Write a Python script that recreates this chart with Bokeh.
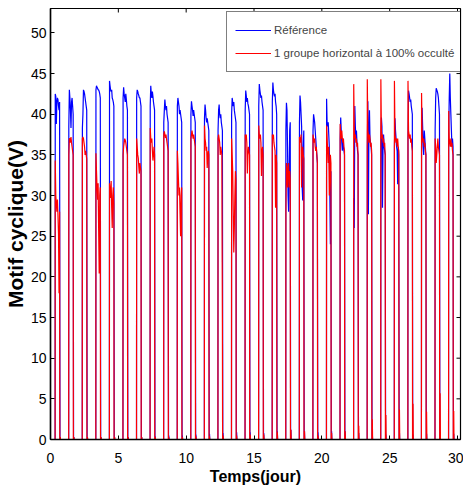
import numpy as np
from bokeh.plotting import figure
from bokeh.models import FixedTicker, Range1d
from bokeh.embed import file_html
from bokeh.resources import INLINE

# ---------------- data ----------------
days = list(range(30))
# sample times inside each daily pulse (fraction of the day)
sample_offsets = [0.35, 0.39, 0.43, 0.47, 0.51, 0.55, 0.59, 0.63, 0.67]
rise_offset = 0.34
blue_fall_offset = 0.70
red_fall_offset = 0.685
tail_offset = 0.72
tail_end_offset = 0.74
x_end = 30.22
y_top = 53

blue_values = [
    [42.5, 42.2, 38.8, 41.5, 42.0, 41.8, 41.0, 40.5, 41.5],
    [38.5, 43.0, 42.0, 40.5, 38.3, 41.5, 42.0, 41.0, 40.0],
    [38.3, 40.0, 43.0, 42.8, 42.5, 42.0, 41.5, 41.0, 40.5],
    [43.0, 43.5, 43.3, 43.2, 43.0, 43.0, 42.8, 42.5, 42.0],
    [44.1, 43.5, 43.0, 42.8, 43.0, 42.0, 41.8, 41.5, 41.0],
    [42.0, 43.3, 42.5, 42.0, 41.5, 42.5, 41.8, 41.0, 40.5],
    [42.0, 43.0, 42.8, 42.5, 42.3, 42.0, 42.0, 41.5, 41.0],
    [41.0, 43.5, 42.5, 42.0, 42.8, 42.2, 41.5, 41.0, 40.5],
    [39.0, 40.5, 41.8, 41.0, 40.5, 41.0, 40.0, 39.5, 39.0],
    [41.0, 42.0, 41.5, 41.0, 40.0, 40.5, 40.0, 39.5, 39.0],
    [40.0, 41.6, 41.0, 40.5, 39.8, 40.5, 40.0, 39.5, 39.0],
    [39.5, 41.2, 40.5, 39.5, 39.0, 39.5, 39.0, 38.5, 38.0],
    [38.0, 40.5, 41.2, 40.0, 39.5, 40.0, 39.0, 38.5, 38.0],
    [40.0, 42.0, 41.5, 41.0, 41.5, 40.5, 40.0, 39.5, 39.0],
    [40.5, 42.9, 42.3, 41.5, 42.0, 41.3, 41.0, 40.5, 40.0],
    [41.0, 43.7, 43.0, 42.5, 42.0, 42.3, 41.5, 41.0, 40.5],
    [41.5, 43.9, 43.0, 42.5, 42.2, 42.5, 41.5, 41.0, 40.0],
    [38.0, 41.4, 40.5, 36.0, 30.0, 28.0, 33.0, 38.0, 39.0],
    [39.0, 42.3, 41.5, 40.0, 38.5, 31.0, 29.4, 36.0, 38.0],
    [38.0, 40.0, 39.5, 39.0, 38.0, 37.0, 36.0, 35.0, 34.0],
    [41.9, 38.8, 38.5, 39.0, 37.5, 36.0, 30.0, 24.0, 33.0],
    [37.0, 39.6, 38.0, 36.5, 35.5, 37.0, 36.0, 35.5, 35.0],
    [29.7, 26.0, 41.0, 38.5, 37.0, 38.0, 36.5, 35.5, 35.0],
    [36.0, 41.6, 27.7, 38.0, 40.5, 37.0, 36.5, 36.0, 35.0],
    [37.0, 39.6, 38.5, 28.5, 36.0, 37.5, 36.0, 35.5, 35.0],
    [36.0, 39.5, 38.0, 37.0, 36.0, 35.5, 31.4, 36.0, 35.0],
    [37.0, 42.9, 42.5, 42.0, 41.5, 41.8, 41.0, 40.5, 40.0],
    [36.0, 40.8, 38.5, 36.0, 35.0, 38.0, 37.0, 36.0, 35.0],
    [38.0, 42.0, 43.2, 43.0, 42.8, 42.5, 42.0, 41.0, 40.0],
    [38.0, 42.0, 45.0, 42.0, 40.0, 38.0, 36.0, 37.0, 36.0],
]

red_values = [
    [34.3, 30.0, 29.0, 28.0, 29.5, 27.7, 25.3, 18.0, 28.0],
    [35.0, 37.0, 37.0, 36.5, 37.2, 36.5, 36.0, 35.5, 35.0],
    [37.0, 37.2, 37.0, 36.5, 36.0, 35.0, 35.5, 35.0, 34.5],
    [35.2, 33.0, 31.0, 29.5, 31.5, 25.7, 20.4, 30.0, 31.0],
    [31.5, 30.5, 29.7, 31.8, 28.5, 26.0, 30.0, 31.0, 29.0],
    [35.0, 36.0, 36.5, 37.0, 36.8, 36.5, 36.0, 35.5, 35.0],
    [37.0, 36.0, 35.0, 34.6, 33.5, 32.7, 34.0, 33.5, 33.0],
    [38.3, 37.0, 36.5, 37.0, 35.5, 34.3, 35.0, 36.0, 35.0],
    [37.5, 37.9, 37.5, 37.1, 37.5, 37.0, 36.5, 36.0, 35.5],
    [35.5, 34.0, 32.0, 30.0, 31.0, 27.8, 25.0, 30.0, 31.0],
    [37.0, 37.5, 38.0, 37.5, 37.0, 37.5, 37.0, 36.5, 36.0],
    [38.6, 37.0, 36.5, 35.5, 36.0, 33.4, 35.0, 35.5, 35.0],
    [37.0, 37.5, 37.0, 36.5, 35.0, 36.0, 35.5, 35.0, 14.5],
    [37.0, 35.0, 33.0, 28.0, 23.0, 26.0, 30.0, 33.0, 32.0],
    [37.5, 37.0, 37.5, 36.5, 32.7, 35.0, 36.0, 35.5, 35.0],
    [38.6, 37.5, 37.0, 37.5, 36.5, 32.4, 35.5, 36.0, 35.0],
    [37.5, 37.0, 37.5, 36.5, 36.0, 35.5, 28.5, 35.0, 34.0],
    [28.0, 34.0, 33.0, 31.0, 33.5, 34.0, 31.0, 33.0, 32.0],
    [37.2, 37.0, 36.5, 37.5, 31.0, 35.0, 36.0, 35.0, 34.5],
    [37.5, 37.0, 36.5, 37.0, 36.0, 35.5, 36.0, 35.0, 34.0],
    [38.6, 37.0, 35.5, 34.0, 36.0, 30.0, 32.0, 35.0, 34.0],
    [38.8, 37.5, 37.0, 38.0, 37.0, 36.5, 37.0, 36.0, 35.5],
    [43.7, 38.0, 37.0, 37.5, 36.5, 37.0, 36.0, 36.5, 35.0],
    [44.3, 38.0, 37.5, 36.5, 37.5, 37.0, 36.0, 36.5, 35.5],
    [44.3, 38.0, 37.0, 37.5, 36.5, 37.0, 36.0, 36.5, 35.0],
    [44.1, 37.5, 37.0, 36.5, 37.0, 36.0, 37.0, 36.0, 35.5],
    [44.1, 38.0, 37.5, 37.0, 37.5, 36.5, 37.0, 36.0, 35.5],
    [42.6, 37.5, 37.0, 36.5, 37.0, 36.0, 36.5, 35.5, 35.0],
    [37.0, 36.0, 34.0, 35.0, 36.0, 37.0, 36.0, 35.5, 35.0],
    [40.4, 37.0, 36.5, 36.0, 37.0, 36.0, 36.5, 35.5, 35.0],
]

# small night-time residuals just after sunset
blue_tail = [0.3, 0.3, 0.3, 0.3, 0.3, 0.3, 0.3, 0.4, 0.5, 0.5,
             0.6, 0.7, 0.8, 0.9, 0.9, 0.8, 1.0, 1.2, 1.0, 0.9,
             1.0, 1.0, 0.8, 0.7, 0.6, 0.8, 0.6, 0.7, 0.6, 0.7]
red_tail = [0.3, 0.3, 0.3, 0.3, 0.3, 0.3, 0.3, 0.3, 0.3, 0.3,
            0.4, 0.4, 0.5, 0.5, 0.6, 0.6, 0.9, 1.2, 1.0, 0.5,
            0.8, 1.0, 1.7, 2.5, 3.0, 3.7, 4.4, 3.4, 5.7, 3.5]

series_names = ["Référence", "1 groupe horizontal à 100% occulté"]
x_ticks = [0, 5, 10, 15, 20, 25, 30]
y_ticks = [0, 5, 10, 15, 20, 25, 30, 35, 40, 45, 50]


def build(values, tails, fall):
    xs, ys = [0.0], [0.0]
    for d, vals, tail in zip(days, values, tails):
        xs.append(d + rise_offset); ys.append(0.0)
        for off, v in zip(sample_offsets, vals):
            xs.append(d + off); ys.append(v)
        xs.append(d + fall); ys.append(0.0)
        xs.append(d + tail_offset); ys.append(tail)
        xs.append(d + tail_end_offset); ys.append(0.0)
    xs.append(x_end); ys.append(0.0)
    return xs, ys


bx, by = build(blue_values, blue_tail, blue_fall_offset)
rx, ry = build(red_values, red_tail, red_fall_offset)

FONT = "Liberation Sans"
W, H = 463, 499
BL, BR, BT, BB = 49, 3, 8, 60
FW, FH = W - BL - BR, H - BT - BB

p = figure(width=W, height=H, output_backend="svg", toolbar_location=None,
           x_range=Range1d(0, x_end), y_range=Range1d(0, y_top),
           min_border_left=BL, min_border_right=BR, min_border_top=BT,
           min_border_bottom=BB)
p.grid.visible = False
p.outline_line_color = "black"
p.outline_line_width = 1.2
p.background_fill_color = "white"
p.border_fill_color = "white"

p.line(bx, by, color="#0000ff", line_width=1.2, legend_label=series_names[0])
p.line(rx, ry, color="#ff0000", line_width=1.2, legend_label=series_names[1])

# inward ticks mirrored on the top and right edges of the box
p.scatter(x_ticks, [y_top] * len(x_ticks), marker="dash", size=8,
          angle=np.pi / 2, line_color="black", line_width=1)
p.scatter([x_end] * len(y_ticks), y_ticks, marker="dash", size=8,
          line_color="black", line_width=1)

for ax in (p.xaxis[0], p.yaxis[0]):
    ax.major_tick_in = 4
    ax.major_tick_out = 0
    ax.minor_tick_in = 0
    ax.minor_tick_out = 0
    ax.axis_line_width = 1.5
    ax.axis_line_color = "black"
    ax.major_tick_line_color = "black"
    ax.major_label_text_font = FONT
    ax.major_label_text_font_size = "14px"
    ax.major_label_text_color = "black"
    ax.axis_label_text_font = FONT
    ax.axis_label_text_font_style = "bold"
    ax.axis_label_text_color = "black"

p.xaxis[0].ticker = FixedTicker(ticks=x_ticks)
p.yaxis[0].ticker = FixedTicker(ticks=y_ticks)
p.xaxis[0].axis_label = "Temps(jour)"
p.yaxis[0].axis_label = "Motif cyclique(V)"
p.xaxis[0].axis_label_text_font_size = "16px"
p.yaxis[0].axis_label_text_font_size = "21px"
p.xaxis[0].major_label_standoff = 13
p.yaxis[0].major_label_standoff = 4
p.xaxis[0].axis_label_standoff = 2
p.yaxis[0].axis_label_standoff = 1

lg = p.legend[0]
LW, LH = 235, 59
lg.location = (FW - LW, FH - 5 - LH)
lg.padding = 8
lg.spacing = 3
lg.margin = 0
lg.glyph_width = 36
lg.glyph_height = 20
lg.label_height = 20
lg.label_standoff = 3
lg.label_text_font = FONT
lg.label_text_font_size = "11.5px"
lg.border_line_color = "black"
lg.border_line_width = 1.2
lg.background_fill_alpha = 1.0

open("out.html", "w").write(file_html(p, INLINE))
